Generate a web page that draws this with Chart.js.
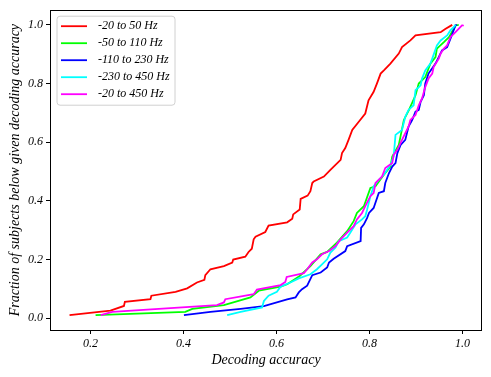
<!DOCTYPE html>
<html>
<head>
<meta charset="utf-8">
<script src="https://cdn.jsdelivr.net/npm/chart.js@4/dist/chart.umd.min.js"></script>
<style>
  body { margin: 0; background: #fff; }
  #wrap { width: 491px; height: 377px; }
</style>
</head>
<body>
<div id="wrap"><canvas id="cdfChart" width="491" height="377"></canvas></div>
<script>
// band labels and colours
var labels = ["-20 to 50 Hz", "-50 to 110 Hz", "-110 to 230 Hz", "-230 to 450 Hz", "-20 to 450 Hz"];
var colors = ["#ff0000", "#00ff00", "#0000ff", "#00ffff", "#ff00ff"];

var xTicks = [0.2, 0.4, 0.6, 0.8, 1.0];
var yTicks = [0.0, 0.2, 0.4, 0.6, 0.8, 1.0];

// sorted decoding accuracy (x) vs fraction of subjects (y)
var redX = [0.155,0.243,0.272,0.274,0.329,0.331,0.383,0.408,0.429,0.445,0.447,0.458,0.487,0.505,0.507,0.533,0.540,0.547,0.551,0.555,0.576,0.583,0.623,0.634,0.636,0.650,0.652,0.667,0.673,0.677,0.680,0.702,0.716,0.738,0.741,0.748,0.755,0.763,0.777,0.791,0.798,0.809,0.816,0.824,0.831,0.845,0.863,0.870,0.888,0.899,0.953,0.963,0.978];
var redY = [0.011,0.026,0.042,0.056,0.065,0.077,0.090,0.102,0.122,0.131,0.147,0.167,0.178,0.190,0.200,0.210,0.226,0.237,0.269,0.278,0.294,0.316,0.327,0.339,0.354,0.371,0.407,0.418,0.433,0.461,0.466,0.483,0.506,0.540,0.563,0.580,0.608,0.642,0.670,0.698,0.743,0.772,0.800,0.834,0.845,0.868,0.902,0.924,0.947,0.964,0.975,0.986,1.0];

var greenX = [0.211,0.404,0.419,0.487,0.544,0.562,0.609,0.623,0.650,0.673,0.695,0.709,0.730,0.752,0.766,0.773,0.788,0.802,0.813,0.831,0.845,0.849,0.863,0.874,0.885,0.899,0.906,0.920,0.931,0.942,0.945,0.960,0.971,0.985,0.992];
var greenY = [0.011,0.022,0.032,0.045,0.071,0.094,0.108,0.116,0.144,0.178,0.218,0.226,0.258,0.297,0.331,0.359,0.382,0.444,0.450,0.489,0.517,0.551,0.591,0.676,0.710,0.760,0.800,0.822,0.868,0.890,0.919,0.941,0.958,0.998,1.0];

var blueX = [0.401,0.458,0.523,0.573,0.623,0.641,0.648,0.655,0.666,0.677,0.695,0.709,0.713,0.723,0.748,0.752,0.781,0.782,0.788,0.795,0.799,0.809,0.820,0.831,0.834,0.842,0.849,0.856,0.860,0.867,0.877,0.884,0.892,0.899,0.906,0.910,0.917,0.920,0.927,0.942,0.949,0.956,0.967,0.974,0.978,0.985,0.988];
var blueY = [0.011,0.022,0.032,0.041,0.064,0.071,0.088,0.099,0.111,0.147,0.156,0.173,0.190,0.203,0.229,0.246,0.263,0.308,0.320,0.342,0.359,0.376,0.427,0.433,0.461,0.495,0.517,0.529,0.563,0.591,0.608,0.653,0.676,0.704,0.710,0.738,0.760,0.800,0.834,0.868,0.890,0.913,0.924,0.952,0.969,0.998,1.0];

var cyanX = [0.494,0.523,0.569,0.573,0.583,0.601,0.609,0.630,0.648,0.673,0.687,0.698,0.709,0.716,0.727,0.734,0.752,0.759,0.770,0.784,0.791,0.795,0.802,0.809,0.820,0.831,0.838,0.845,0.852,0.856,0.870,0.877,0.884,0.895,0.899,0.910,0.913,0.920,0.931,0.935,0.945,0.953,0.967,0.974,0.981,0.985];
var cyanY = [0.011,0.022,0.037,0.059,0.077,0.090,0.108,0.122,0.136,0.150,0.167,0.184,0.201,0.224,0.241,0.263,0.275,0.292,0.320,0.337,0.348,0.371,0.416,0.450,0.472,0.489,0.506,0.523,0.551,0.625,0.642,0.687,0.710,0.726,0.777,0.794,0.817,0.845,0.868,0.885,0.930,0.947,0.964,0.981,0.992,1.0];

var magentaX = [0.222,0.247,0.472,0.487,0.490,0.551,0.558,0.609,0.619,0.622,0.659,0.666,0.677,0.687,0.698,0.713,0.727,0.738,0.752,0.766,0.773,0.784,0.791,0.802,0.809,0.813,0.827,0.834,0.849,0.852,0.860,0.870,0.877,0.884,0.888,0.899,0.906,0.913,0.920,0.927,0.935,0.938,0.949,0.953,0.960,0.967,0.974,0.985,0.999,1.001];
var magentaY = [0.011,0.022,0.045,0.054,0.065,0.082,0.098,0.113,0.124,0.141,0.154,0.167,0.190,0.201,0.218,0.229,0.246,0.269,0.292,0.314,0.337,0.359,0.382,0.416,0.427,0.461,0.483,0.512,0.529,0.557,0.574,0.608,0.631,0.653,0.676,0.693,0.726,0.749,0.788,0.817,0.834,0.856,0.885,0.902,0.919,0.930,0.958,0.975,0.998,1.0];

var seriesX = [redX, greenX, blueX, cyanX, magentaX];
var seriesY = [redY, greenY, blueY, cyanY, magentaY];

function toPoints(xs, ys) {
	var pts = [];
	for (i = 0; i < xs.length; i++) pts.push({x: xs[i], y: ys[i]});
	return pts;
}

var datasets = [];
for (var k = 0; k < labels.length; k++) {
	datasets.push({
		label: labels[k],
		data: toPoints(seriesX[k], seriesY[k]),
		borderColor: colors[k],
		backgroundColor: colors[k],
		borderWidth: 1.8,
		pointRadius: 0,
		tension: 0,
		fill: false,
		order: labels.length - 1 - k
	});
}

var serif = "'Liberation Serif', 'DejaVu Serif', serif";

// frame round the plot area plus a matplotlib style legend box
var framePlugin = {
	id: 'frame',
	afterDatasetsDraw: function(chart) {
		var ctx = chart.ctx;
		var a = chart.chartArea;
		ctx.save();
		ctx.strokeStyle = '#000';
		ctx.lineWidth = 1;
		ctx.strokeRect(Math.round(a.left) + 0.5, Math.round(a.top) + 0.5,
			Math.round(a.right - a.left) - 1, Math.round(a.bottom - a.top));

		// legend
		var bx = a.left + 7, by = a.top + 6, bw = 118, bh = 89, r = 3;
		ctx.beginPath();
		ctx.moveTo(bx + r, by);
		ctx.arcTo(bx + bw, by, bx + bw, by + bh, r);
		ctx.arcTo(bx + bw, by + bh, bx, by + bh, r);
		ctx.arcTo(bx, by + bh, bx, by, r);
		ctx.arcTo(bx, by, bx + bw, by, r);
		ctx.closePath();
		ctx.fillStyle = 'rgba(255,255,255,0.8)';
		ctx.fill();
		ctx.strokeStyle = '#d0d0d0';
		ctx.stroke();

		ctx.font = 'italic 12px ' + serif;
		ctx.textBaseline = 'middle';
		ctx.textAlign = 'left';
		chart.data.datasets.forEach(function(ds, i) {
			var yy = by + 10 + i * 17;
			ctx.strokeStyle = ds.borderColor;
			ctx.lineWidth = 1.8;
			ctx.beginPath();
			ctx.moveTo(bx + 4, yy);
			ctx.lineTo(bx + 30, yy);
			ctx.stroke();
			ctx.fillStyle = '#000';
			ctx.fillText(ds.label, bx + 41, yy);
		});
		ctx.restore();
	}
};

var ctx = document.getElementById("cdfChart").getContext('2d');
var myChart = new Chart(ctx, {
	type: 'line',
	data: { datasets: datasets },
	plugins: [framePlugin],
	options: {
		responsive: false,
		animation: false,
		layout: { padding: { top: 9, right: 9, left: 0, bottom: 0 } },
		plugins: {
			legend: { display: false },
			tooltip: { enabled: false }
		},
		scales: {
			x: {
				type: 'linear',
				min: 0.113,
				max: 1.042,
				afterBuildTicks: function(scale) {
					scale.ticks = xTicks.map(function(v) { return {value: v}; });
				},
				afterFit: function(scale) { scale.height = 47; },
				border: { display: false },
				grid: { drawOnChartArea: false, drawTicks: true, tickLength: 4, color: '#000', tickColor: '#000' },
				ticks: {
					color: '#000',
					padding: 3,
					maxRotation: 0,
					font: { family: serif, size: 12, style: 'italic' },
					callback: function(v) { return v.toFixed(1); }
				},
				title: {
					display: true,
					text: 'Decoding accuracy',
					color: '#000',
					padding: { top: 2, bottom: 8 },
					font: { family: serif, size: 14, style: 'italic' }
				}
			},
			y: {
				type: 'linear',
				min: -0.04,
				max: 1.05,
				afterBuildTicks: function(scale) {
					scale.ticks = yTicks.map(function(v) { return {value: v}; });
				},
				afterFit: function(scale) { scale.width = 50; },
				border: { display: false },
				grid: { drawOnChartArea: false, drawTicks: true, tickLength: 4, color: '#000', tickColor: '#000' },
				ticks: {
					color: '#000',
					padding: 3,
					font: { family: serif, size: 12, style: 'italic' },
					callback: function(v) { return v.toFixed(1); }
				},
				title: {
					display: true,
					text: 'Fraction of subjects below given decoding accuracy',
					color: '#000',
					padding: { top: 7, bottom: 0 },
					font: { family: serif, size: 14, style: 'italic' }
				}
			}
		}
	}
});
</script>
</body>
</html>
